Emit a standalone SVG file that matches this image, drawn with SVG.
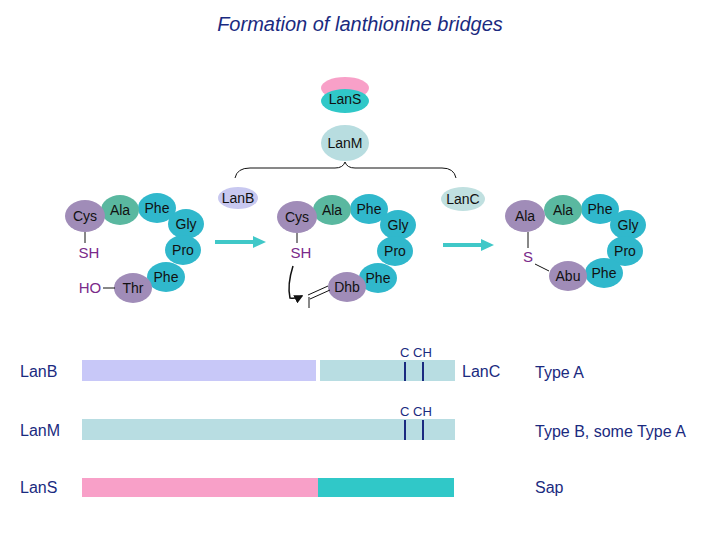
<svg xmlns="http://www.w3.org/2000/svg" width="720" height="540" viewBox="0 0 720 540">
<style>
text{font-family:"Liberation Sans",Arial,sans-serif}
.aa{font-size:14px;fill:#111;text-anchor:middle}
.lab{font-size:16px;fill:#1a2a80}
.p{fill:#a08cb8}.g{fill:#5ab8a0}.b{fill:#30b8cc}
.pt{font-size:15px;fill:#7a2a8a;text-anchor:middle}
.ln{stroke:#111;stroke-width:1;fill:none}
.mk{stroke:#1a2a80;stroke-width:2}
</style>
<defs>
<marker id="ah" markerWidth="6" markerHeight="6" refX="5" refY="3" orient="auto"><path d="M0,0L6,3L0,6z" fill="#111"/></marker>
</defs>
<rect width="720" height="540" fill="#fff"/>
<text x="360" y="31" font-size="20" font-style="italic" fill="#1a2a80" text-anchor="middle">Formation of lanthionine bridges</text>
<g id="LanS"><ellipse cx="345" cy="88" rx="24" ry="11" fill="#f8a0c8"/><ellipse cx="345" cy="101" rx="24" ry="12" fill="#30c8c8"/><text class="aa" x="345" y="104">LanS</text></g>
<g id="LanM"><ellipse cx="345" cy="143" rx="24" ry="18" fill="#b8dde0"/><text class="aa" x="345" y="148">LanM</text></g>
<g id="brace"><path class="ln" d="M235,178 Q237,168 250,168 L335,168 Q343,168 345,162 Q347,168 355,168 L442,168 Q454,168 456,178"/></g>
<g id="LanB"><ellipse cx="238" cy="198" rx="20" ry="11" fill="#c8c8f0"/><text class="aa" x="238" y="203">LanB</text></g>
<g id="LanC"><ellipse cx="463" cy="199" rx="22" ry="12" fill="#c0e0e0"/><text class="aa" x="463" y="204">LanC</text></g>
<g id="chain1">
<ellipse class="b" cx="157" cy="208" rx="19" ry="15"/><ellipse class="b" cx="186" cy="224" rx="18" ry="15"/><ellipse class="b" cx="183" cy="250" rx="18" ry="15"/><ellipse class="b" cx="166" cy="277" rx="19" ry="15"/>
<ellipse class="g" cx="120" cy="210" rx="19" ry="15"/><ellipse class="p" cx="85" cy="216" rx="20" ry="16"/><ellipse class="p" cx="133" cy="288" rx="19" ry="15"/>
<text class="aa" x="85" y="221">Cys</text><text class="aa" x="120" y="215">Ala</text><text class="aa" x="157" y="213">Phe</text><text class="aa" x="186" y="229">Gly</text><text class="aa" x="183" y="255">Pro</text><text class="aa" x="166" y="282">Phe</text><text class="aa" x="133" y="293">Thr</text>
<line class="ln" x1="85" y1="232" x2="85" y2="243"/><text class="pt" x="89" y="258">SH</text>
<line class="ln" x1="103" y1="288" x2="115" y2="288"/><text class="pt" x="90" y="293">HO</text>
</g>
<g id="chain2">
<ellipse class="b" cx="369" cy="209" rx="19" ry="15"/><ellipse class="b" cx="398" cy="225" rx="18" ry="15"/><ellipse class="b" cx="395" cy="251" rx="18" ry="15"/><ellipse class="b" cx="378" cy="278" rx="19" ry="15"/>
<ellipse class="g" cx="332" cy="210" rx="19" ry="15"/><ellipse class="p" cx="297" cy="217" rx="20" ry="16"/><ellipse class="p" cx="347" cy="287" rx="19" ry="15"/>
<text class="aa" x="297" y="222">Cys</text><text class="aa" x="332" y="215">Ala</text><text class="aa" x="369" y="214">Phe</text><text class="aa" x="398" y="230">Gly</text><text class="aa" x="395" y="256">Pro</text><text class="aa" x="378" y="283">Phe</text><text class="aa" x="347" y="292">Dhb</text>
<line class="ln" x1="297" y1="233" x2="297" y2="243"/><text class="pt" x="301" y="258">SH</text>
</g>
<g id="chain3">
<ellipse class="b" cx="600" cy="209" rx="19" ry="15"/><ellipse class="b" cx="628" cy="225" rx="18" ry="15"/><ellipse class="b" cx="625" cy="251" rx="18" ry="15"/><ellipse class="b" cx="604" cy="273" rx="19" ry="15"/>
<ellipse class="g" cx="563" cy="210" rx="19" ry="15"/><ellipse class="p" cx="525" cy="216" rx="20" ry="16"/><ellipse class="p" cx="568" cy="276" rx="19" ry="15"/>
<text class="aa" x="525" y="221">Ala</text><text class="aa" x="563" y="215">Ala</text><text class="aa" x="600" y="214">Phe</text><text class="aa" x="628" y="230">Gly</text><text class="aa" x="625" y="256">Pro</text><text class="aa" x="604" y="278">Phe</text><text class="aa" x="568" y="281">Abu</text>
<line class="ln" x1="528" y1="232" x2="528" y2="248"/><text class="pt" x="528" y="262" font-family="Liberation Serif">S</text>
<line class="ln" x1="535" y1="264" x2="549" y2="271"/>
</g>
<g id="connectors">
<line x1="215" y1="242" x2="255" y2="242" stroke="#40c8c8" stroke-width="4"/><path d="M253,236L266,242L253,248z" fill="#40c8c8"/>
<line x1="443" y1="245" x2="483" y2="245" stroke="#40c8c8" stroke-width="4"/><path d="M481,239L494,245L481,251z" fill="#40c8c8"/>
<path d="M293,266 Q287,285 290,298 Q296,299 302,296" fill="none" stroke="#111" stroke-width="1.5" marker-end="url(#ah)"/>
<line class="ln" x1="308" y1="295" x2="328" y2="286"/><line class="ln" x1="310" y1="299" x2="330" y2="290"/><line class="ln" x1="309" y1="297" x2="309" y2="308"/>
</g>
<g id="bars">
<text class="lab" x="20" y="377">LanB</text><text class="lab" x="20" y="436">LanM</text><text class="lab" x="20" y="493">LanS</text>
<rect x="82" y="360" width="234" height="21" fill="#c8c8f8"/><rect x="320" y="360" width="135" height="21" fill="#b8dde2"/>
<rect x="82" y="419" width="373" height="21" fill="#b8dde2"/>
<rect x="82" y="478" width="236" height="19" fill="#f8a0c8"/><rect x="318" y="478" width="136" height="19" fill="#30c8c8"/>
<line class="mk" x1="405" y1="362" x2="405" y2="381"/><line class="mk" x1="423" y1="362" x2="423" y2="381"/>
<line class="mk" x1="405" y1="420" x2="405" y2="440"/><line class="mk" x1="423" y1="420" x2="423" y2="440"/>
<text x="416" y="357" font-size="13" fill="#1a2a80" text-anchor="middle">C CH</text>
<text x="416" y="416" font-size="13" fill="#1a2a80" text-anchor="middle">C CH</text>
<text class="lab" x="462" y="377">LanC</text>
<text class="lab" x="535" y="378">Type A</text><text class="lab" x="535" y="437">Type B, some Type A</text><text class="lab" x="535" y="493">Sap</text>
</g>
</svg>
